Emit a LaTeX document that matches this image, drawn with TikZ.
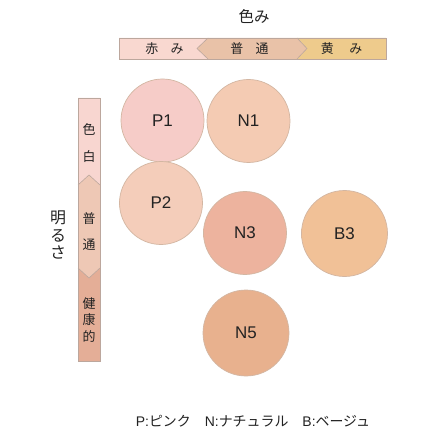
\documentclass[tikz,border=0pt]{standalone}
\usepackage{fontspec}
\setmainfont{Liberation Sans}
\newfontfamily\jp{Noto Sans CJK JP}
\definecolor{redseg}{HTML}{F9D8D0}
\definecolor{midseg}{HTML}{E9C2A8}
\definecolor{yelseg}{HTML}{EECB8C}
\definecolor{lbtop}{HTML}{F8D6D0}
\definecolor{lbmid}{HTML}{EEC8B5}
\definecolor{lbbot}{HTML}{E4AE97}
\definecolor{barline}{HTML}{BCA79D}
\definecolor{ringc}{HTML}{D3B6A2}
\definecolor{txt}{HTML}{222222}
\definecolor{cP1}{HTML}{F6CCC8}
\definecolor{cN1}{HTML}{F4CBB3}
\definecolor{cP2}{HTML}{F4CDBA}
\definecolor{cN3}{HTML}{EDB39E}
\definecolor{cB3}{HTML}{F1C197}
\definecolor{cN5}{HTML}{E8B18E}
\definecolor{fP1}{HTML}{FEF7F6}
\definecolor{fN1}{HTML}{FEF6F2}
\definecolor{fP2}{HTML}{FEF6F2}
\definecolor{fN3}{HTML}{FCF2EE}
\definecolor{fB3}{HTML}{FDF4EC}
\definecolor{fN5}{HTML}{FCF2EC}
\pgfdeclareradialshading{puffP1}{\pgfpointorigin}{color(0bp)=(cP1); color(29bp)=(cP1); color(46bp)=(fP1); color(50bp)=(fP1)}
\pgfdeclareradialshading{puffN1}{\pgfpointorigin}{color(0bp)=(cN1); color(29bp)=(cN1); color(46bp)=(fN1); color(50bp)=(fN1)}
\pgfdeclareradialshading{puffP2}{\pgfpointorigin}{color(0bp)=(cP2); color(29bp)=(cP2); color(46bp)=(fP2); color(50bp)=(fP2)}
\pgfdeclareradialshading{puffN3}{\pgfpointorigin}{color(0bp)=(cN3); color(29bp)=(cN3); color(46bp)=(fN3); color(50bp)=(fN3)}
\pgfdeclareradialshading{puffB3}{\pgfpointorigin}{color(0bp)=(cB3); color(29bp)=(cB3); color(46bp)=(fB3); color(50bp)=(fB3)}
\pgfdeclareradialshading{puffN5}{\pgfpointorigin}{color(0bp)=(cN5); color(29bp)=(cN5); color(46bp)=(fN5); color(50bp)=(fN5)}
\begin{document}
\begin{tikzpicture}[x=1bp,y=-1bp,
  barborder/.style={draw=barline, line width=0.6bp},
  cushion/.style={circle, shading=puff#1, draw=ringc, line width=0.7bp, minimum size=83bp, inner sep=0pt, text=txt, font=\fontsize{17}{19}\selectfont},
  bartext/.style={text=txt, font=\jp\fontsize{13}{15}\selectfont, inner sep=0pt},
  vtext/.style={text=txt, font=\jp\fontsize{13}{27}\selectfont, align=center, inner sep=0pt}]
\useasboundingbox[fill=white] (0,0) rectangle (440,440);
% title
\node[text=txt, font=\jp\fontsize{15.5}{17}\selectfont] (title) at (254,17) {色み};
% top bar
\fill[redseg] (119,38) -- (208,38) -- (197,48.5) -- (208,59) -- (119,59) -- cycle;
\fill[midseg] (208,38) -- (297,38) -- (307,48.5) -- (297,59) -- (208,59) -- (197,48.5) -- cycle;
\fill[yelseg] (297,38) -- (386,38) -- (386,59) -- (297,59) -- (307,48.5) -- cycle;
\draw[barborder] (119,38) rectangle (386,59);
\draw[barborder] (208,38) -- (197,48.5) -- (208,59);
\draw[barborder] (297,38) -- (307,48.5) -- (297,59);
\node[bartext] (aka) at (164.5,48.5) {赤\hspace{0.95em}み};
\node[bartext] (futsu1) at (249.5,48.5) {普\hspace{0.95em}通};
\node[bartext] (ki) at (341.5,48.5) {黄\hspace{1.2em}み};
% left bar
\fill[lbtop] (78,98) -- (100,98) -- (100,185) -- (89,175) -- (78,185) -- cycle;
\fill[lbmid] (78,185) -- (89,175) -- (100,185) -- (100,268) -- (89,278) -- (78,268) -- cycle;
\fill[lbbot] (78,268) -- (89,278) -- (100,268) -- (100,361) -- (78,361) -- cycle;
\draw[barborder] (78,98) rectangle (100,361);
\draw[barborder] (78,185) -- (89,175) -- (100,185);
\draw[barborder] (78,268) -- (89,278) -- (100,268);
\node[vtext] (iroshiro) at (89,143.5) {色\\白};
\node[vtext] (futsu2) at (89,231.5) {普\\通};
\node[vtext, font=\jp\fontsize{13}{17}\selectfont] (kenko) at (89,320) {健\\康\\的};
\node[text=txt, font=\jp\fontsize{16}{18}\selectfont, align=center, inner sep=0pt] (akarusa) at (58,235) {明\\る\\さ};
% circles
\node[cushion=P1] (P1) at (162.5,120.5) {P1};
\node[cushion=N1] (N1) at (248.5,121) {N1};
\node[cushion=P2] (P2) at (161,203) {P2};
\node[cushion=N3] (N3) at (245,233) {N3};
\node[cushion=B3, minimum size=86bp] (B3) at (344.5,233.5) {B3};
\node[cushion=N5, minimum size=86bp] (N5) at (246,333) {N5};
% legend
\node[text=txt, font=\fontsize{14}{16}\selectfont, inner sep=0pt] (legend) at (253,421) {P:{\jp ピンク}\hspace{1.0em}N:{\jp ナチュラル}\hspace{1.0em}B:{\jp ベージュ}};
\end{tikzpicture}
\end{document}
